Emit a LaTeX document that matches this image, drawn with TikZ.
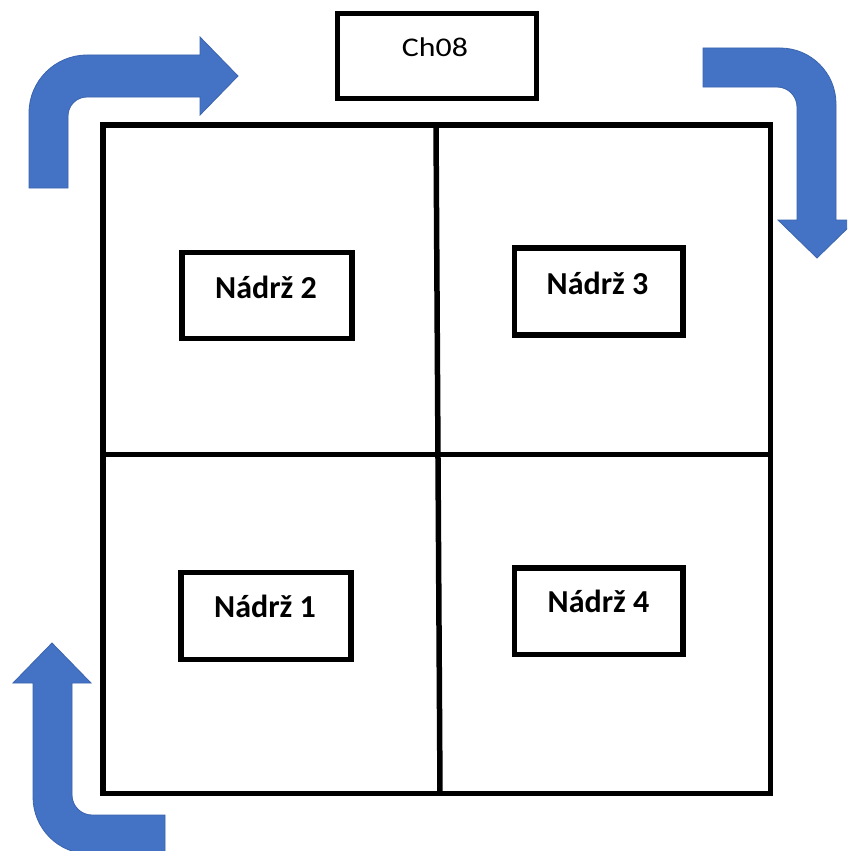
\documentclass[tikz,border=0pt]{standalone}
\usepackage{fontspec}
\setmainfont{Carlito}
\definecolor{arrowblue}{HTML}{4472C4}
\definecolor{arrowedge}{HTML}{3B64AE}
\tikzset{
  tankbox/.style={draw=black, line width=5.5pt, minimum width=#1, minimum height=86pt, inner sep=0pt},
  tanklabel/.style={anchor=base, inner sep=0pt, font=\fontsize{32}{36}\selectfont\bfseries},
  bentarrow/.style={fill=arrowblue, draw=arrowedge, line width=0.8pt, line join=miter},
  frame/.style={draw=black, line width=5.5pt},
}
\begin{document}
\begin{tikzpicture}[x=1pt,y=-1pt]
\useasboundingbox (0,0) rectangle (847,851);
\clip (0,0) rectangle (847,851);
\fill[white] (0,0) rectangle (847,851);

% outer square and dividers
\draw[frame] (103,125) rectangle (770.5,793.5);
\draw[frame] (436,125) -- (440,793.5);
\draw[frame] (103,454.5) -- (770.5,454.5);

% Ch08 box
\node[draw=black, line width=5pt, minimum width=199pt, minimum height=84pt, inner sep=0pt] (ch) at (436.5,56) {};
\node[anchor=base, inner sep=0pt, font=\fontsize{27}{30}\selectfont] (chtext) at (435,57) {\scalebox{1.18}[1]{Ch08}};

% tank boxes
\node[tankbox=170pt] (b2) at (267,295.5) {};
\node[tanklabel] (t2) at (266,298) {Nádrž 2};
\node[tankbox=168.5pt, minimum height=87pt] (b3) at (598.75,291.5) {};
\node[tanklabel] (t3) at (597.5,294) {Nádrž 3};
\node[tankbox=170pt, minimum height=87pt] (b1) at (266,616) {};
\node[tanklabel] (t1) at (265,617) {Nádrž 1};
\node[tankbox=168.5pt, minimum height=86.5pt] (b4) at (598.75,611.25) {};
\node[tanklabel] (t4) at (598.5,612) {Nádrž 4};

% top-left bent arrow (up then right)
\filldraw[bentarrow] (29,188) -- (29,113)
  .. controls (29,81) and (55,55) .. (87,55)
  -- (200,55) -- (200,37) -- (238,76) -- (200,115) -- (200,97)
  -- (87,97) .. controls (76.5,97) and (68,105.5) .. (68,116)
  -- (68,188) -- cycle;

% top-right bent arrow (right then down)
\filldraw[bentarrow] (703,48) -- (780,48)
  .. controls (811,48) and (836,73) .. (836,104)
  -- (836,220) -- (856,220) -- (817,258) -- (778,220) -- (797,220)
  -- (797,107) .. controls (797,96) and (788,87) .. (777,87)
  -- (703,87) -- cycle;

% bottom-left bent arrow (right then up)
\filldraw[bentarrow] (165,854) -- (90,854)
  .. controls (58.5,854) and (33,828.5) .. (33,797)
  -- (33,683) -- (13,683) -- (52,643) -- (91,683) -- (72,683)
  -- (72,795) .. controls (72,806) and (81,815) .. (92,815)
  -- (165,815) -- cycle;
\end{tikzpicture}
\end{document}
